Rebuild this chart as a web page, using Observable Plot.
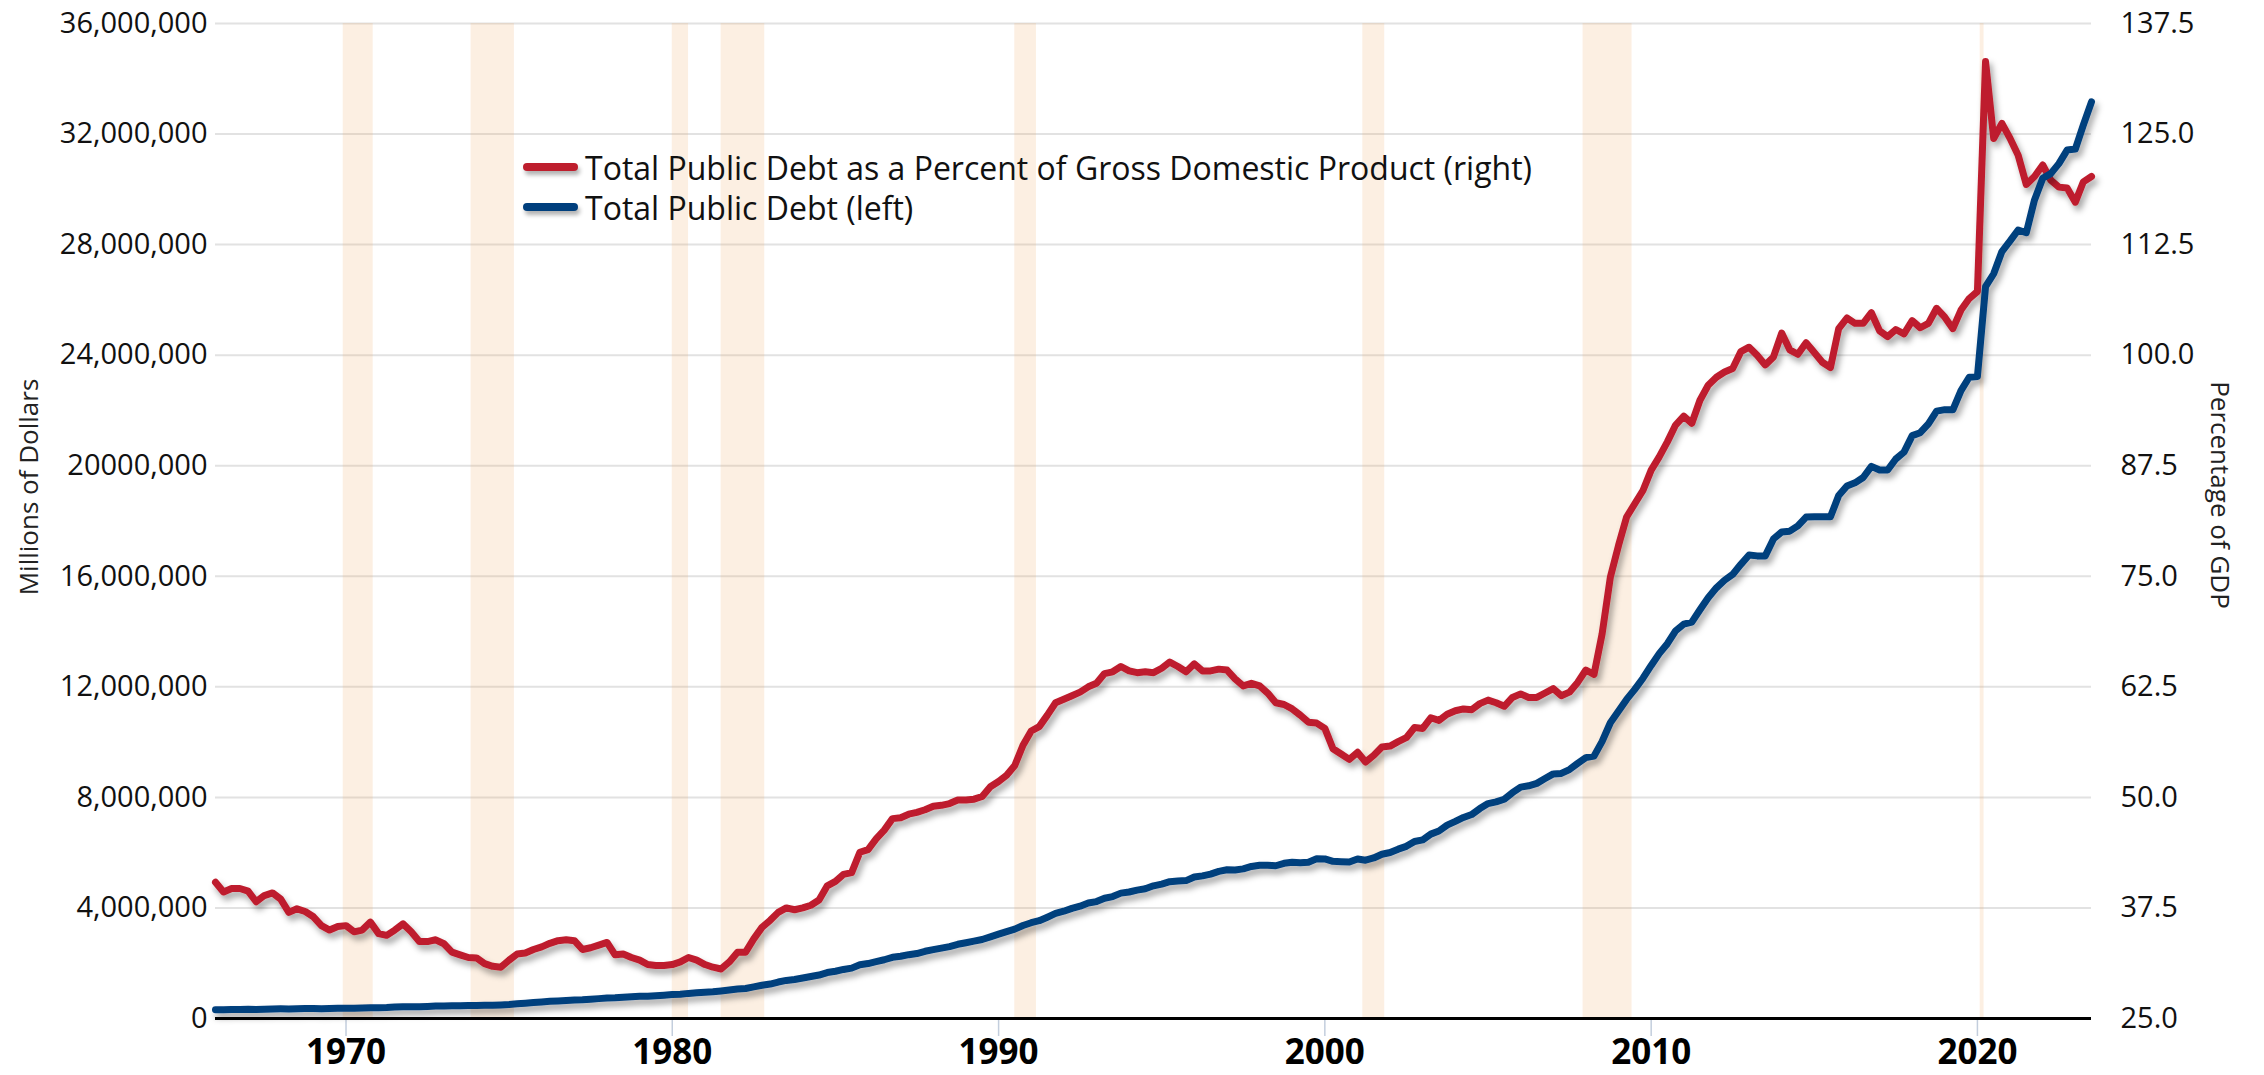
<!DOCTYPE html>
<html>
<head>
<meta charset="utf-8">
<script src="https://cdn.jsdelivr.net/npm/d3@7"></script>
<script src="https://cdn.jsdelivr.net/npm/@observablehq/plot@0.6"></script>
<style>
  html, body { margin: 0; padding: 0; background: #fff; overflow: hidden; }
  #wrap { position: relative; width: 2264px; height: 1075px; font-family: "Open Sans", sans-serif; color: #111; }
  #wrap svg { display: block; }
  .legend { position: absolute; left: 523px; top: 147px; font-size: 32px; color: #111; }
  .legend .item { display: flex; align-items: center; height: 40px; white-space: nowrap; }
  .legend .sw { display: inline-block; width: 55px; height: 8px; border-radius: 4px; margin-right: 7px; box-shadow: 2px 4px 4px rgba(0,0,0,0.3); }
  .atitle { position: absolute; font-size: 26px; color: #222; white-space: nowrap; }
</style>
</head>
<body>
<div id="wrap"></div>
<script>
// ---------------- data ----------------
const startYear = 1966; // first quarter: 1966 Q1, quarterly observations

// Total Public Debt (millions of dollars), quarterly 1966Q1 - 2023Q3
const debtMillions = [
  320999, 316097, 324748, 329319,
  330947, 322893, 337088, 344663,
  348400, 348000, 356000, 358000,
  359000, 353700, 361300, 368200,
  372000, 370900, 383000, 389200,
  391700, 398100, 413300, 424100,
  427800, 427300, 436500, 449300,
  456700, 458100, 461900, 469900,
  474300, 475100, 481500, 492700,
  509700, 533200, 553600, 576600,
  600500, 620400, 634700, 653500,
  666000, 674400, 698800, 718900,
  737800, 750000, 771500, 789200,
  805000, 804900, 826500, 845100,
  864400, 876400, 908700, 930200,
  950400, 964500, 997900, 1034700,
  1065100, 1086000, 1142000, 1201900,
  1245300, 1319600, 1377200, 1410700,
  1463700, 1517200, 1572300, 1663000,
  1710700, 1774600, 1823100, 1945900,
  1986800, 2059300, 2125300, 2214800,
  2250700, 2309600, 2350300, 2431700,
  2493200, 2547700, 2602300, 2684400,
  2740900, 2799900, 2857400, 2953000,
  3052000, 3143800, 3233300, 3364800,
  3465200, 3538000, 3665300, 3801700,
  3881300, 3984700, 4064600, 4177000,
  4230600, 4352000, 4411500, 4535700,
  4575900, 4645800, 4692700, 4800200,
  4864100, 4951400, 4974000, 4988700,
  5117800, 5161100, 5224800, 5323200,
  5380900, 5376200, 5413100, 5502400,
  5542400, 5547900, 5526200, 5614200,
  5651600, 5638800, 5656300, 5776100,
  5773400, 5685900, 5674200, 5662200,
  5773700, 5726800, 5807500, 5943400,
  6006000, 6126500, 6228200, 6405700,
  6460800, 6670400, 6783200, 6998000,
  7131100, 7274300, 7379100, 7596100,
  7776900, 7836500, 7932700, 8170400,
  8371200, 8420000, 8507000, 8680200,
  8849700, 8867700, 9007700, 9229200,
  9437600, 9492000, 10024700, 10699800,
  11126900, 11545300, 11909800, 12311300,
  12773100, 13201800, 13561600, 14025200,
  14270000, 14343100, 14790300, 15222900,
  15582100, 15855500, 16066200, 16432700,
  16771600, 16738200, 16738200, 17352000,
  17601200, 17632600, 17824100, 18141400,
  18152100, 18152100, 18150600, 18922200,
  19264900, 19381600, 19573400, 19976800,
  19846400, 19844600, 20244900, 20492900,
  21089600, 21195100, 21516100, 21974100,
  22028000, 22023000, 22719400, 23201400,
  23230000, 26477200, 26945400, 27747800,
  28132800, 28529400, 28428900, 29617200,
  30400900, 30568600, 30928900, 31419700,
  31458400, 32332300, 33167300
];

// Total Public Debt as a Percent of GDP, quarterly 1966Q1 - 2023Q3
const debtPctGDP = [
  40.4, 39.3, 39.7, 39.7,
  39.4, 38.2, 38.9, 39.2,
  38.5, 37.0, 37.4, 37.1,
  36.5, 35.5, 35.0, 35.4,
  35.5, 34.8, 35.0, 35.9,
  34.6, 34.4, 35.0, 35.7,
  34.8, 33.7, 33.7, 33.9,
  33.45, 32.5, 32.2, 31.9,
  31.85, 31.2, 30.9, 30.8,
  31.6, 32.3, 32.4, 32.8,
  33.1, 33.5, 33.8, 33.9,
  33.8, 32.8, 33.0, 33.3,
  33.6, 32.2, 32.3, 31.9,
  31.6, 31.1, 31.0, 31.0,
  31.1, 31.4, 31.9, 31.6,
  31.1, 30.8, 30.6, 31.4,
  32.5, 32.5, 34.0, 35.3,
  36.1, 37.0, 37.5, 37.3,
  37.5, 37.8, 38.4, 40.0,
  40.5, 41.3, 41.5, 43.8,
  44.1, 45.3, 46.3, 47.6,
  47.7, 48.1, 48.3, 48.6,
  49.0, 49.1, 49.3, 49.7,
  49.7, 49.8, 50.1, 51.2,
  51.8, 52.5, 53.6, 55.9,
  57.5, 58.0, 59.3, 60.7,
  61.1, 61.5, 61.9, 62.5,
  62.9, 64.0, 64.2, 64.8,
  64.3, 64.1, 64.2, 64.1,
  64.6, 65.3, 64.8, 64.2,
  65.1, 64.3, 64.3, 64.5,
  64.4, 63.4, 62.6, 62.9,
  62.6, 61.8, 60.7, 60.5,
  60.0, 59.3, 58.5, 58.4,
  57.8, 55.5, 54.9, 54.3,
  55.1, 54.0, 54.75, 55.7,
  55.8, 56.3, 56.75, 57.9,
  57.8, 59.0, 58.7, 59.4,
  59.8, 60.0, 59.9, 60.6,
  61.0, 60.7, 60.3, 61.3,
  61.7, 61.3, 61.3, 61.8,
  62.3, 61.5, 61.9, 63.0,
  64.4, 63.9, 68.5, 74.9,
  78.5, 81.7, 83.2, 84.7,
  87.0, 88.5, 90.2, 92.1,
  93.1, 92.3, 94.9, 96.6,
  97.5, 98.1, 98.5, 100.4,
  100.9, 100.0, 98.9, 99.8,
  102.5, 100.6, 100.1, 101.4,
  100.3, 99.2, 98.6, 103.0,
  104.2, 103.6, 103.6, 104.8,
  102.75, 102.1, 102.9, 102.4,
  103.9, 103.1, 103.6, 105.3,
  104.3, 103.0, 105.1, 106.4,
  107.2, 133.2, 124.5, 126.2,
  124.5, 122.6, 119.3, 120.2,
  121.5, 119.8, 119.0, 118.9,
  117.3, 119.6, 120.2
];

// axes
const leftTicks = [0, 4000000, 8000000, 12000000, 16000000, 20000000, 24000000, 28000000, 32000000, 36000000];
const leftTickLabels = ["0", "4,000,000", "8,000,000", "12,000,000", "16,000,000", "20000,000", "24,000,000", "28,000,000", "32,000,000", "36,000,000"];
const rightTickLabels = ["25.0", "37.5", "50.0", "62.5", "75.0", "87.5", "100.0", "112.5", "125.0", "137.5"];
const pctDomain = [25, 137.5];
const yearTicks = [1970, 1980, 1990, 2000, 2010, 2020];

// NBER recessions (shaded)
const recessionStart = ["1969-12-01", "1973-11-01", "1980-01-01", "1981-07-01", "1990-07-01", "2001-03-01", "2007-12-01", "2020-02-01"];
const recessionEnd   = ["1970-11-01", "1975-03-01", "1980-07-01", "1982-11-01", "1991-03-01", "2001-11-01", "2009-06-01", "2020-03-15"];

const seriesNames = ["Total Public Debt as a Percent of Gross Domestic Product (right)", "Total Public Debt (left)"];
const seriesColors = ["#be1e2d", "#003f7d"];
const axisTitles = ["Millions of Dollars", "Percentage of GDP"];

// ---------------- build ----------------
const dates = debtMillions.map((_, i) => new Date(Date.UTC(startYear + Math.floor(i / 4), (i % 4) * 3, 1)));
const rows = dates.map((d, i) => ({date: d, debt: debtMillions[i], pct: debtPctGDP[i]}));
const leftMax = leftTicks[leftTicks.length - 1];
const toLeft = p => (p - pctDomain[0]) / (pctDomain[1] - pctDomain[0]) * leftMax;
const recessions = recessionStart.map((s, i) => ({x1: new Date(s), x2: new Date(recessionEnd[i])}));
const yearDates = yearTicks.map(y => new Date(Date.UTC(y, 0, 1)));

const chart = Plot.plot({
  width: 2264,
  height: 1075,
  marginLeft: 215,
  marginRight: 173,
  marginTop: 23,
  marginBottom: 57,
  style: {fontFamily: '"Open Sans", sans-serif', background: "white", overflow: "visible", color: "#111"},
  x: {type: "utc", domain: [dates[0], dates[dates.length - 1]]},
  y: {domain: [0, leftMax]},
  marks: [
    Plot.gridY(leftTicks, {stroke: "#e2e2e2", strokeOpacity: 1, strokeWidth: 2}),
    Plot.rect(recessions, {x1: "x1", x2: "x2", fill: "#f0b070", fillOpacity: 0.2}),
    Plot.axisY(leftTicks, {anchor: "left", tickSize: 0, tickPadding: 8, fontSize: 29, fill: "#111",
      tickFormat: d => leftTickLabels[leftTicks.indexOf(d)], label: null}),
    Plot.axisY(leftTicks, {anchor: "right", tickSize: 0, tickPadding: 29, fontSize: 29, fill: "#111",
      tickFormat: d => rightTickLabels[leftTicks.indexOf(d)], label: null}),
    Plot.axisX(yearDates, {anchor: "bottom", tickSize: 18, tickPadding: 3, fontSize: 35, fontWeight: "bold",
      stroke: "#c3cedd", strokeWidth: 1.5, fill: "#000", tickFormat: d => String(d.getUTCFullYear()), label: null}),
    Plot.ruleY([0], {stroke: "#000", strokeWidth: 3}),
    Plot.line(rows, {x: "date", y: d => toLeft(d.pct), stroke: seriesColors[0], strokeWidth: 7,
      strokeLinejoin: "round", strokeLinecap: "round"}),
    Plot.line(rows, {x: "date", y: "debt", stroke: seriesColors[1], strokeWidth: 7,
      strokeLinejoin: "round", strokeLinecap: "round"})
  ]
});

// soft drop shadow on the two series lines
const ns = "http://www.w3.org/2000/svg";
const defs = document.createElementNS(ns, "defs");
defs.innerHTML = '<filter id="lineShadow" x="-5%" y="-5%" width="110%" height="115%">' +
  '<feDropShadow dx="3" dy="5" stdDeviation="3" flood-color="#000" flood-opacity="0.35"/></filter>';
chart.insertBefore(defs, chart.firstChild);
chart.querySelectorAll('g[aria-label="line"]').forEach(g => g.setAttribute("filter", "url(#lineShadow)"));

const wrap = document.getElementById("wrap");
wrap.appendChild(chart);

// legend
const legend = document.createElement("div");
legend.className = "legend";
seriesNames.forEach((name, i) => {
  const item = document.createElement("div");
  item.className = "item";
  const sw = document.createElement("span");
  sw.className = "sw";
  sw.style.background = seriesColors[i];
  const tx = document.createElement("span");
  tx.textContent = name;
  item.appendChild(sw);
  item.appendChild(tx);
  legend.appendChild(item);
});
wrap.appendChild(legend);

// axis titles
const lt = document.createElement("div");
lt.className = "atitle";
lt.textContent = axisTitles[0];
lt.style.left = "28px"; lt.style.top = "487px";
lt.style.transform = "translate(-50%,-50%) rotate(-90deg)";
wrap.appendChild(lt);

const rt = document.createElement("div");
rt.className = "atitle";
rt.textContent = axisTitles[1];
rt.style.left = "2221px"; rt.style.top = "495px";
rt.style.transform = "translate(-50%,-50%) rotate(90deg)";
wrap.appendChild(rt);
</script>
</body>
</html>
